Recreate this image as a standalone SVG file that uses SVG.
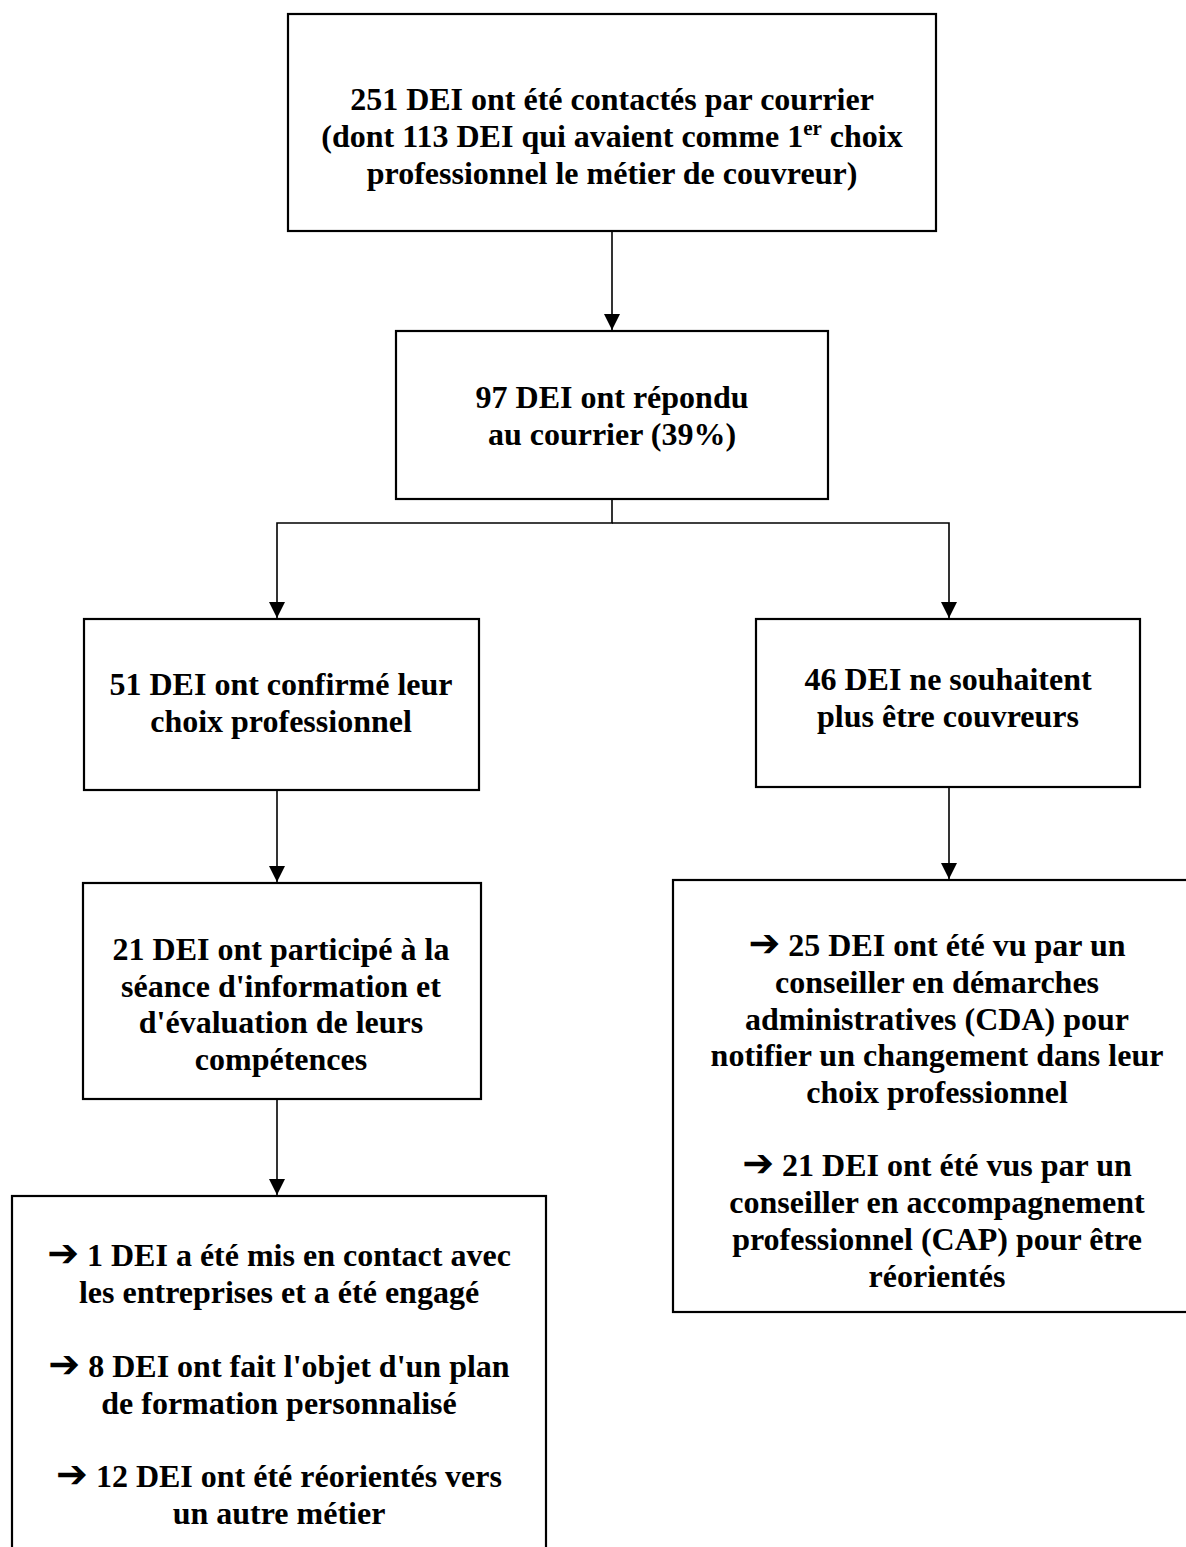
<svg xmlns="http://www.w3.org/2000/svg" width="1186" height="1547" viewBox="0 0 1186 1547">
<style>
.box{fill:#fff;stroke:#000;stroke-width:2.2}
.t{font-family:"Liberation Serif","Times New Roman",serif;font-weight:bold;font-size:32px;fill:#000;text-anchor:middle}
.ar{font-family:"DejaVu Sans",sans-serif;font-weight:bold;font-size:38px}
.c{fill:none;stroke:#000;stroke-width:1.6}
</style>
<defs>
<marker id="ah" markerWidth="16" markerHeight="16" refX="16" refY="8" orient="auto" markerUnits="userSpaceOnUse"><path d="M0,0 L16,8 L0,16 Z" fill="#000"/></marker>
</defs>
<rect width="1186" height="1547" fill="#fff"/>
<g id="connectors">
<path class="c" d="M612,231 V330" marker-end="url(#ah)"/>
<path class="c" d="M612,499 V523 H277 V618" marker-end="url(#ah)"/>
<path class="c" d="M612,523 H949 V618" marker-end="url(#ah)"/>
<path class="c" d="M277,790 V882" marker-end="url(#ah)"/>
<path class="c" d="M949,787 V879" marker-end="url(#ah)"/>
<path class="c" d="M277,1099 V1195" marker-end="url(#ah)"/>
</g>
<g id="n1">
<rect class="box" x="288" y="14" width="648" height="217"/>
<text class="t" x="612" y="110">251 DEI ont été contactés par courrier</text>
<text class="t" x="612" y="147">(dont 113 DEI qui avaient comme 1<tspan font-size="21" dy="-12">er</tspan><tspan dy="12"> choix</tspan></text>
<text class="t" x="612" y="184">professionnel le métier de couvreur)</text>
</g>
<g id="n2">
<rect class="box" x="396" y="331" width="432" height="168"/>
<text class="t" x="612" y="408">97 DEI ont répondu</text>
<text class="t" x="612" y="445">au courrier (39%)</text>
</g>
<g id="n3">
<rect class="box" x="84" y="619" width="395" height="171"/>
<text class="t" x="281" y="695">51 DEI ont confirmé leur</text>
<text class="t" x="281" y="732">choix professionnel</text>
</g>
<g id="n4">
<rect class="box" x="756" y="619" width="384" height="168"/>
<text class="t" x="948" y="690">46 DEI ne souhaitent</text>
<text class="t" x="948" y="727">plus être couvreurs</text>
</g>
<g id="n5">
<rect class="box" x="83" y="883" width="398" height="216"/>
<text class="t" x="281" y="960">21 DEI ont participé à la</text>
<text class="t" x="281" y="997">séance d'information et</text>
<text class="t" x="281" y="1033">d'évaluation de leurs</text>
<text class="t" x="281" y="1070">compétences</text>
</g>
<g id="n6">
<rect class="box" x="673" y="880" width="560" height="432"/>
<text class="t" x="937" y="956"><tspan class="ar">➔</tspan> 25 DEI ont été vu par un</text>
<text class="t" x="937" y="993">conseiller en démarches</text>
<text class="t" x="937" y="1030">administratives (CDA) pour</text>
<text class="t" x="937" y="1066">notifier un changement dans leur</text>
<text class="t" x="937" y="1103">choix professionnel</text>
<text class="t" x="937" y="1176"><tspan class="ar">➔</tspan> 21 DEI ont été vus par un</text>
<text class="t" x="937" y="1213">conseiller en accompagnement</text>
<text class="t" x="937" y="1250">professionnel (CAP) pour être</text>
<text class="t" x="937" y="1287">réorientés</text>
</g>
<g id="n7">
<rect class="box" x="12" y="1196" width="534" height="400"/>
<text class="t" x="279" y="1266"><tspan class="ar">➔</tspan> 1 DEI a été mis en contact avec</text>
<text class="t" x="279" y="1303">les entreprises et a été engagé</text>
<text class="t" x="279" y="1377"><tspan class="ar">➔</tspan> 8 DEI ont fait l'objet d'un plan</text>
<text class="t" x="279" y="1414">de formation personnalisé</text>
<text class="t" x="279" y="1487"><tspan class="ar">➔</tspan> 12 DEI ont été réorientés vers</text>
<text class="t" x="279" y="1524">un autre métier</text>
</g>
</svg>
